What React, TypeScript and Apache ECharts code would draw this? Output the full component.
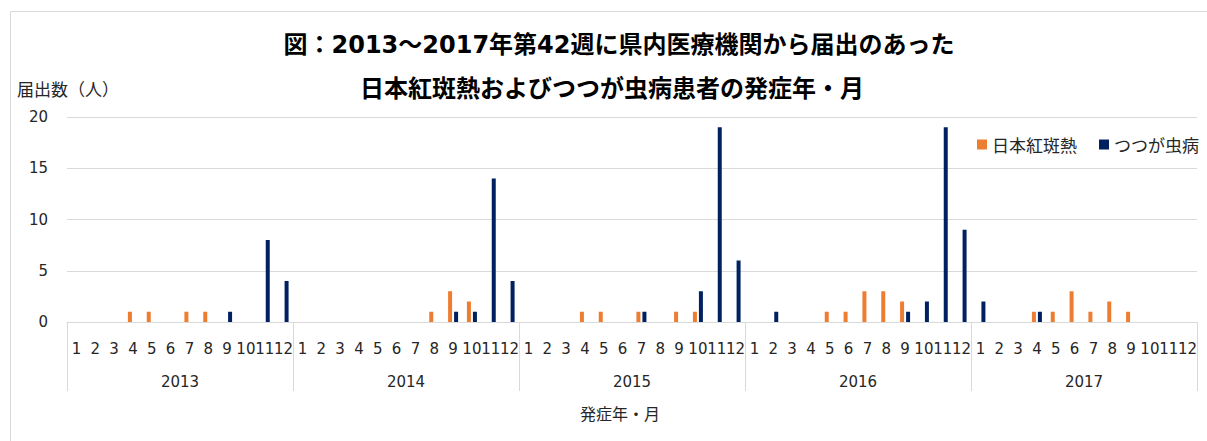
import React, { useEffect, useRef } from "react";
import * as echarts from "echarts";

const years = ["2013", "2014", "2015", "2016", "2017"];
const monthLabels = ["1", "2", "3", "4", "5", "6", "7", "8", "9", "10", "11", "12"];

// 日本紅斑熱 (60 months, 2013-01 .. 2017-12)
const japaneseSpottedFever = [
  0, 0, 0, 1, 1, 0, 1, 1, 0, 0, 0, 0,
  0, 0, 0, 0, 0, 0, 0, 1, 3, 2, 0, 0,
  0, 0, 0, 1, 1, 0, 1, 0, 1, 1, 0, 0,
  0, 0, 0, 0, 1, 1, 3, 3, 2, 0, 0, 0,
  0, 0, 0, 1, 1, 3, 1, 2, 1, 0, 0, 0,
];

// つつが虫病
const tsutsugamushi = [
  0, 0, 0, 0, 0, 0, 0, 0, 1, 0, 8, 4,
  0, 0, 0, 0, 0, 0, 0, 0, 1, 1, 14, 4,
  0, 0, 0, 0, 0, 0, 1, 0, 0, 3, 19, 6,
  0, 1, 0, 0, 0, 0, 0, 0, 1, 2, 19, 9,
  2, 0, 0, 1, 0, 0, 0, 0, 0, 0, 0, 0,
];

const yTicks = { min: 0, max: 20, interval: 5 };

const titleLine1 = "図：2013～2017年第42週に県内医療機関から届出のあった";
const titleLine2 = "日本紅斑熱およびつつが虫病患者の発症年・月";
const yName = "届出数（人）";
const xName = "発症年・月";

const FONT = "'DejaVu Sans', 'Noto Sans CJK JP', sans-serif";
const CJK = "'Noto Sans CJK JP', 'DejaVu Sans', sans-serif";
const TXT = "#262626";
const GRID = "#d9d9d9";

export default function App() {
  const ref = useRef<HTMLDivElement>(null);
  useEffect(() => {
    if (!ref.current) return;
    const chart = echarts.init(ref.current, undefined, { renderer: "svg" });
    const categories: string[] = [];
    years.forEach(() => monthLabels.forEach((m) => categories.push(m)));
    chart.setOption({
      animation: false,
      backgroundColor: "#ffffff",
      grid: { left: 67, right: 10, top: 117, bottom: 119, containLabel: false },
      legend: {
        right: 3,
        top: 131,
        itemWidth: 10,
        itemHeight: 10,
        itemGap: 22,
        icon: "rect",
        textStyle: { fontFamily: CJK, fontSize: 17, color: TXT },
        data: ["日本紅斑熱", "つつが虫病"],
      },
      xAxis: [
        {
          type: "category",
          data: categories,
          axisLine: { show: true, lineStyle: { color: GRID, width: 1 } },
          axisTick: { show: false },
          axisLabel: {
            interval: 0,
            margin: 19,
            fontFamily: FONT,
            fontSize: 15,
            color: TXT,
          },
        },
        {
          type: "category",
          position: "bottom",
          data: years,
          boundaryGap: true,
          axisLine: { show: false },
          axisTick: { show: true, length: 69, lineStyle: { color: GRID, width: 1 } },
          axisLabel: {
            interval: 0,
            margin: 52,
            fontFamily: FONT,
            fontSize: 15,
            color: TXT,
          },
          splitLine: { show: false },
        },
      ],
      yAxis: {
        type: "value",
        min: yTicks.min,
        max: yTicks.max,
        interval: yTicks.interval,
        axisLine: { show: false },
        axisTick: { show: false },
        splitLine: { lineStyle: { color: GRID, width: 1 } },
        axisLabel: { margin: 19, fontFamily: FONT, fontSize: 15, color: TXT },
      },
      series: [
        {
          name: "日本紅斑熱",
          type: "bar",
          xAxisIndex: 0,
          data: japaneseSpottedFever,
          barWidth: 4,
          barGap: "50%",
          itemStyle: { color: "#ED7D31" },
        },
        {
          name: "つつが虫病",
          type: "bar",
          xAxisIndex: 0,
          data: tsutsugamushi,
          barWidth: 4,
          barGap: "50%",
          itemStyle: { color: "#002060" },
        },
      ],
      graphic: [
        {
          type: "rect",
          shape: { x: 10.5, y: 11.5, width: 1400, height: 600 },
          style: { fill: "none", stroke: GRID, lineWidth: 1 },
          silent: true,
        },
        {
          type: "text",
          x: 619,
          y: 45,
          style: {
            text: titleLine1,
            fontFamily: FONT,
            fontWeight: "bold",
            fontSize: 24,
            fill: "#000000",
            textAlign: "center",
            textVerticalAlign: "middle",
          },
        },
        {
          type: "text",
          x: 612,
          y: 89,
          style: {
            text: titleLine2,
            fontFamily: FONT,
            fontWeight: "bold",
            fontSize: 24,
            fill: "#000000",
            textAlign: "center",
            textVerticalAlign: "middle",
          },
        },
        {
          type: "text",
          x: 17,
          y: 88,
          style: {
            text: yName,
            fontFamily: CJK,
            fontSize: 17,
            fill: TXT,
            textAlign: "left",
            textVerticalAlign: "middle",
          },
        },
        {
          type: "text",
          x: 620,
          y: 413,
          style: {
            text: xName,
            fontFamily: CJK,
            fontSize: 16,
            fill: TXT,
            textAlign: "center",
            textVerticalAlign: "middle",
          },
        },
      ],
    });
    return () => chart.dispose();
  }, []);
  return (
    <div
      ref={ref}
      style={{ position: "absolute", left: 0, top: 0, width: 1207, height: 441 }}
    />
  );
}
